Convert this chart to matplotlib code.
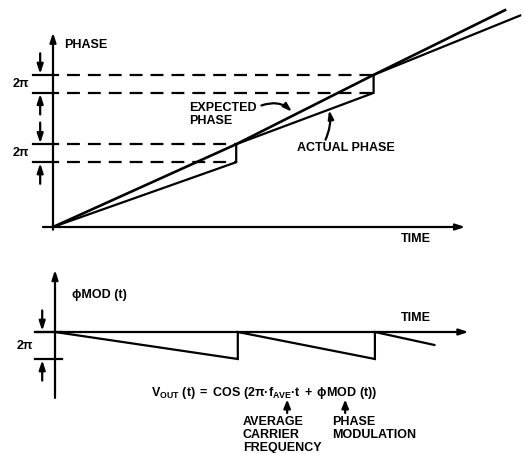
import matplotlib
matplotlib.use("Agg")
import matplotlib.pyplot as plt

plt.rcParams['font.family'] = ['Liberation Sans', 'DejaVu Sans']
plt.rcParams['font.weight'] = 'bold'
plt.rcParams['mathtext.fontset'] = 'custom'
plt.rcParams['mathtext.rm'] = 'Liberation Sans:bold'
plt.rcParams['mathtext.it'] = 'Liberation Sans:bold'
plt.rcParams['mathtext.bf'] = 'Liberation Sans:bold'
plt.rcParams['mathtext.sf'] = 'Liberation Sans:bold'
plt.rcParams['mathtext.fallback'] = 'stixsans'

# ---------------- data ----------------
# top panel: phase vs time (time in step units, phase in "2pi" units)
expected_t = [0, 4, 7, 9.87]
expected_phase = [0, 4.6, 8.45, 12.05]
actual_t = [0, 4, 4, 7, 7, 10.2]
actual_phase = [0, 3.6, 4.6, 7.45, 8.45, 11.75]
step_times = [4, 7]
level_pairs = [(3.6, 4.6), (7.45, 8.45)]   # dashed lines (2pi apart)

# bottom panel: phi MOD(t)
mod_t = [0, 4, 4, 7, 7, 8.3]
mod_phi = [0, -1, 0, -1, 0, -0.48]

W, H = 523, 453
fig = plt.figure(figsize=(W / 100, H / 100), dpi=100)
fig.patch.set_facecolor('white')

LW = 1.6
K = 'black'


def make_axes(ox, oy, ux, uy):
    """Axes covering the figure; origin at pixel (ox, oy from top)."""
    ax = fig.add_axes([0, 0, 1, 1])
    ax.set_xlim(-ox / ux, (W - ox) / ux)
    ax.set_ylim(-(H - oy) / uy, oy / uy)
    ax.axis('off')
    ax.patch.set_alpha(0)
    return ax


def arrow(ax, start, tip, hl=0.55, hw=0.18, lw=LW, cs='arc3'):
    ax.annotate('', xy=tip, xytext=start,
                arrowprops=dict(arrowstyle=f'-|>,head_length={hl},head_width={hw}',
                                lw=lw, color=K, shrinkA=0, shrinkB=0,
                                mutation_scale=10, connectionstyle=cs))


FS = 9

# ================= top panel =================
ax1 = make_axes(53, 227, 45.8, 18)
# axes
arrow(ax1, (0, -0.15), (0, 10.8))
arrow(ax1, (-0.22, 0), (9.0, 0))
ax1.text(0.24, 10.1, 'PHASE', fontsize=FS, fontweight='bold', va='center', ha='left')
ax1.text(7.6, -0.67, 'TIME', fontsize=FS, fontweight='bold', va='center', ha='left')

# dashed levels
for st, (lo, hi) in zip(step_times, level_pairs):
    for lv in (lo, hi):
        ax1.plot([0.3, st], [lv, lv], color=K, lw=LW, ls=(0, (5.8, 3.6)),
                 solid_capstyle='butt', dash_capstyle='butt')
    # ticks at the left
    for lv in (lo, hi):
        ax1.plot([-0.43, 0.12], [lv, lv], color=K, lw=LW)
    arrow(ax1, (-0.28, hi + 1.2), (-0.28, hi + 0.05))
    arrow(ax1, (-0.28, lo - 1.2), (-0.28, lo - 0.05))
    ax1.text(-0.7, (lo + hi) / 2, '2π', fontsize=FS, fontweight='bold', va='center', ha='center')

ax1.plot(expected_t, expected_phase, color=K, lw=LW + 0.3, solid_joinstyle='miter')
ax1.plot(actual_t, actual_phase, color=K, lw=LW, solid_joinstyle='miter')

ax1.text(2.98, 6.6, 'EXPECTED', fontsize=FS, fontweight='bold', va='center', ha='left')
ax1.text(2.98, 5.9, 'PHASE', fontsize=FS, fontweight='bold', va='center', ha='left')
arrow(ax1, (4.55, 6.75), (5.22, 6.4), hl=0.5, hw=0.16, cs='arc3,rad=-0.3')

ax1.text(5.33, 4.4, 'ACTUAL PHASE', fontsize=FS, fontweight='bold', va='center', ha='left')
arrow(ax1, (5.95, 4.85), (6.03, 6.5), hl=0.5, hw=0.16, cs='arc3,rad=0.15')

# ================= bottom panel =================
ax2 = make_axes(55, 332, 45.7, 27)
arrow(ax2, (0, -2.44), (0, 2.3))
arrow(ax2, (-0.43, 0), (9.05, 0))
ax2.text(0.37, 1.37, r'ϕMOD (t)', fontsize=FS, fontweight='bold', va='center', ha='left')
ax2.text(7.57, 0.52, 'TIME', fontsize=FS, fontweight='bold', va='center', ha='left')

ax2.plot(mod_t, mod_phi, color=K, lw=LW, solid_joinstyle='miter')

for lv in (0, -1):
    ax2.plot([-0.43, 0.15], [lv, lv], color=K, lw=LW)
arrow(ax2, (-0.28, 0.8), (-0.28, 0.04))
arrow(ax2, (-0.28, -1.8), (-0.28, -1.04))
ax2.text(-0.67, -0.52, '2π', fontsize=FS, fontweight='bold', va='center', ha='center')

eq = r'$\mathrm{V_{OUT}\ (t)\;=\;COS\ (2\pi·f_{AVE}·t\;+\;\phi MOD\ (t))}$'
ax2.text(4.58, -2.26, eq, fontsize=FS, va='center', ha='center')
arrow(ax2, (5.08, -3.0), (5.08, -2.5), hl=0.5, hw=0.2)
arrow(ax2, (6.35, -3.0), (6.35, -2.5), hl=0.5, hw=0.2)

for i, s in enumerate(['AVERAGE', 'CARRIER', 'FREQUENCY']):
    ax2.text(4.11, -3.33 - 0.48 * i, s, fontsize=FS, fontweight='bold', va='center', ha='left')
for i, s in enumerate(['PHASE', 'MODULATION']):
    ax2.text(6.06, -3.33 - 0.48 * i, s, fontsize=FS, fontweight='bold', va='center', ha='left')

fig.savefig('out.png', dpi=100, facecolor='white')
